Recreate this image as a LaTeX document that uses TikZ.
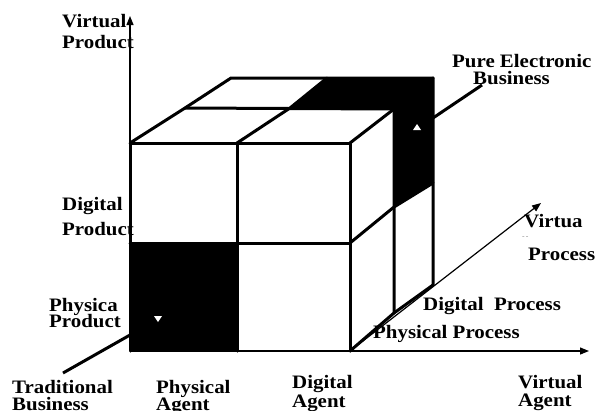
\documentclass[tikz,border=0pt]{standalone}
\usepackage{fontspec}
\setmainfont{Liberation Serif}[FakeStretch=1.1]
\usetikzlibrary{arrows.meta}
\begin{document}
\begin{tikzpicture}[x=1pt,y=-1pt,
  edge/.style={line width=3pt, line join=round, line cap=round},
  axis/.style={line width=1.2pt, -{Triangle[length=9pt,width=7pt]}},
  spur/.style={line width=3pt},
  lbl/.style={anchor=base west, inner sep=0pt, font=\fontsize{19}{19}\selectfont\bfseries},
  ]
\useasboundingbox (0,0) rectangle (599,410);

% origin of the axes and the cube corners (front / middle / back layers)
\coordinate (O)   at (130,351);
\coordinate (F00) at (130,351); \coordinate (F10) at (237,351); \coordinate (F20) at (350,351);
\coordinate (F01) at (130,243); \coordinate (F11) at (237,243); \coordinate (F21) at (350,243);
\coordinate (F02) at (130,143); \coordinate (F12) at (237,143); \coordinate (F22) at (350,143);
\coordinate (M02) at (185,108); \coordinate (M12) at (290,108); \coordinate (M22) at (394,109);
\coordinate (M21) at (394,207); \coordinate (M20) at (394,313);
\coordinate (B02) at (231,78);  \coordinate (B12) at (327,78);  \coordinate (B22) at (433,78);
\coordinate (B21) at (433,183); \coordinate (B20) at (433,285);

% axis ends
\coordinate (Ytip) at (130,16);
\coordinate (Xtip) at (589,351);
\coordinate (Ztip) at (541,203);
\coordinate (Tb)   at (63,373);
\coordinate (Tc)   at (130,335);
\coordinate (Pe)   at (482,85);
\coordinate (Pc)   at (433,118);

% shaded cells
\fill (F01) rectangle (F10);
\fill (M12) -- (B12) -- (B22) -- (B21) -- (M21) -- (M22) -- cycle;

% axes
\draw[axis] (O) -- (Ytip);
\draw[axis] (O) -- (Xtip);
\draw[axis] (F20) -- (Ztip);

% cube edges
\draw[edge] (F00) -- (F02) -- (F22) -- (F20);
\draw[edge] (F10) -- (F12);
\draw[edge] (F01) -- (F21);
\draw[edge] (F02) -- (M02) -- (B02) -- (B22);
\draw[edge] (F12) -- (M12) -- (B12);
\draw[edge] (F22) -- (M22) -- (B22) -- (B20);
\draw[edge] (M02) -- (M22) -- (M20);
\draw[edge] (F21) -- (M21) -- (B21);
\draw[edge] (F20) -- (M20) -- (B20);

% outer spurs
\draw[spur] (Tb) -- (Tc);
\draw[spur] (Pc) -- (Pe);

% small white markers
\fill[white] (154,316) -- (162,316) -- (158,322) -- cycle;
\fill[white] (413,130) -- (421,130) -- (417,124) -- cycle;

% labels
\node[lbl] (vp1) at (62,27)  {Virtual};
\node[lbl] (vp2) at (62,48)  {Product};
\node[lbl] (pe1) at (452,67) {Pure Electronic};
\node[lbl] (pe2) at (473,84) {Business};
\node[lbl] (dp1) at (62,210) {Digital};
\node[lbl] (dp2) at (62,235) {Product};
\node[lbl] (pp1) at (49,311) {Physica};
\node[lbl] (pp2) at (49,327) {Product};
\node[lbl] (tb1) at (12,393) {Traditional};
\node[lbl] (tb2) at (12,410) {Business};
\node[lbl] (pa1) at (156,393) {Physical};
\node[lbl] (pa2) at (156,410) {Agent};
\node[lbl] (da1) at (292,388) {Digital};
\node[lbl] (da2) at (292,407) {Agent};
\node[lbl] (va1) at (518,388) {Virtual};
\node[lbl] (va2) at (518,406) {Agent};
\node[lbl] (ppr) at (373,338) {Physical Process};
\node[lbl] (dpr) at (423,310) {Digital\ \ Process};
\node[lbl] (vpr1) at (524,227) {Virtua};
\node[anchor=base west, inner sep=0pt, text=gray, font=\fontsize{7}{7}\selectfont] (dash) at (522,238) {-\,-};
\node[lbl] (vpr2) at (528,260) {Process};
\end{tikzpicture}
\end{document}
